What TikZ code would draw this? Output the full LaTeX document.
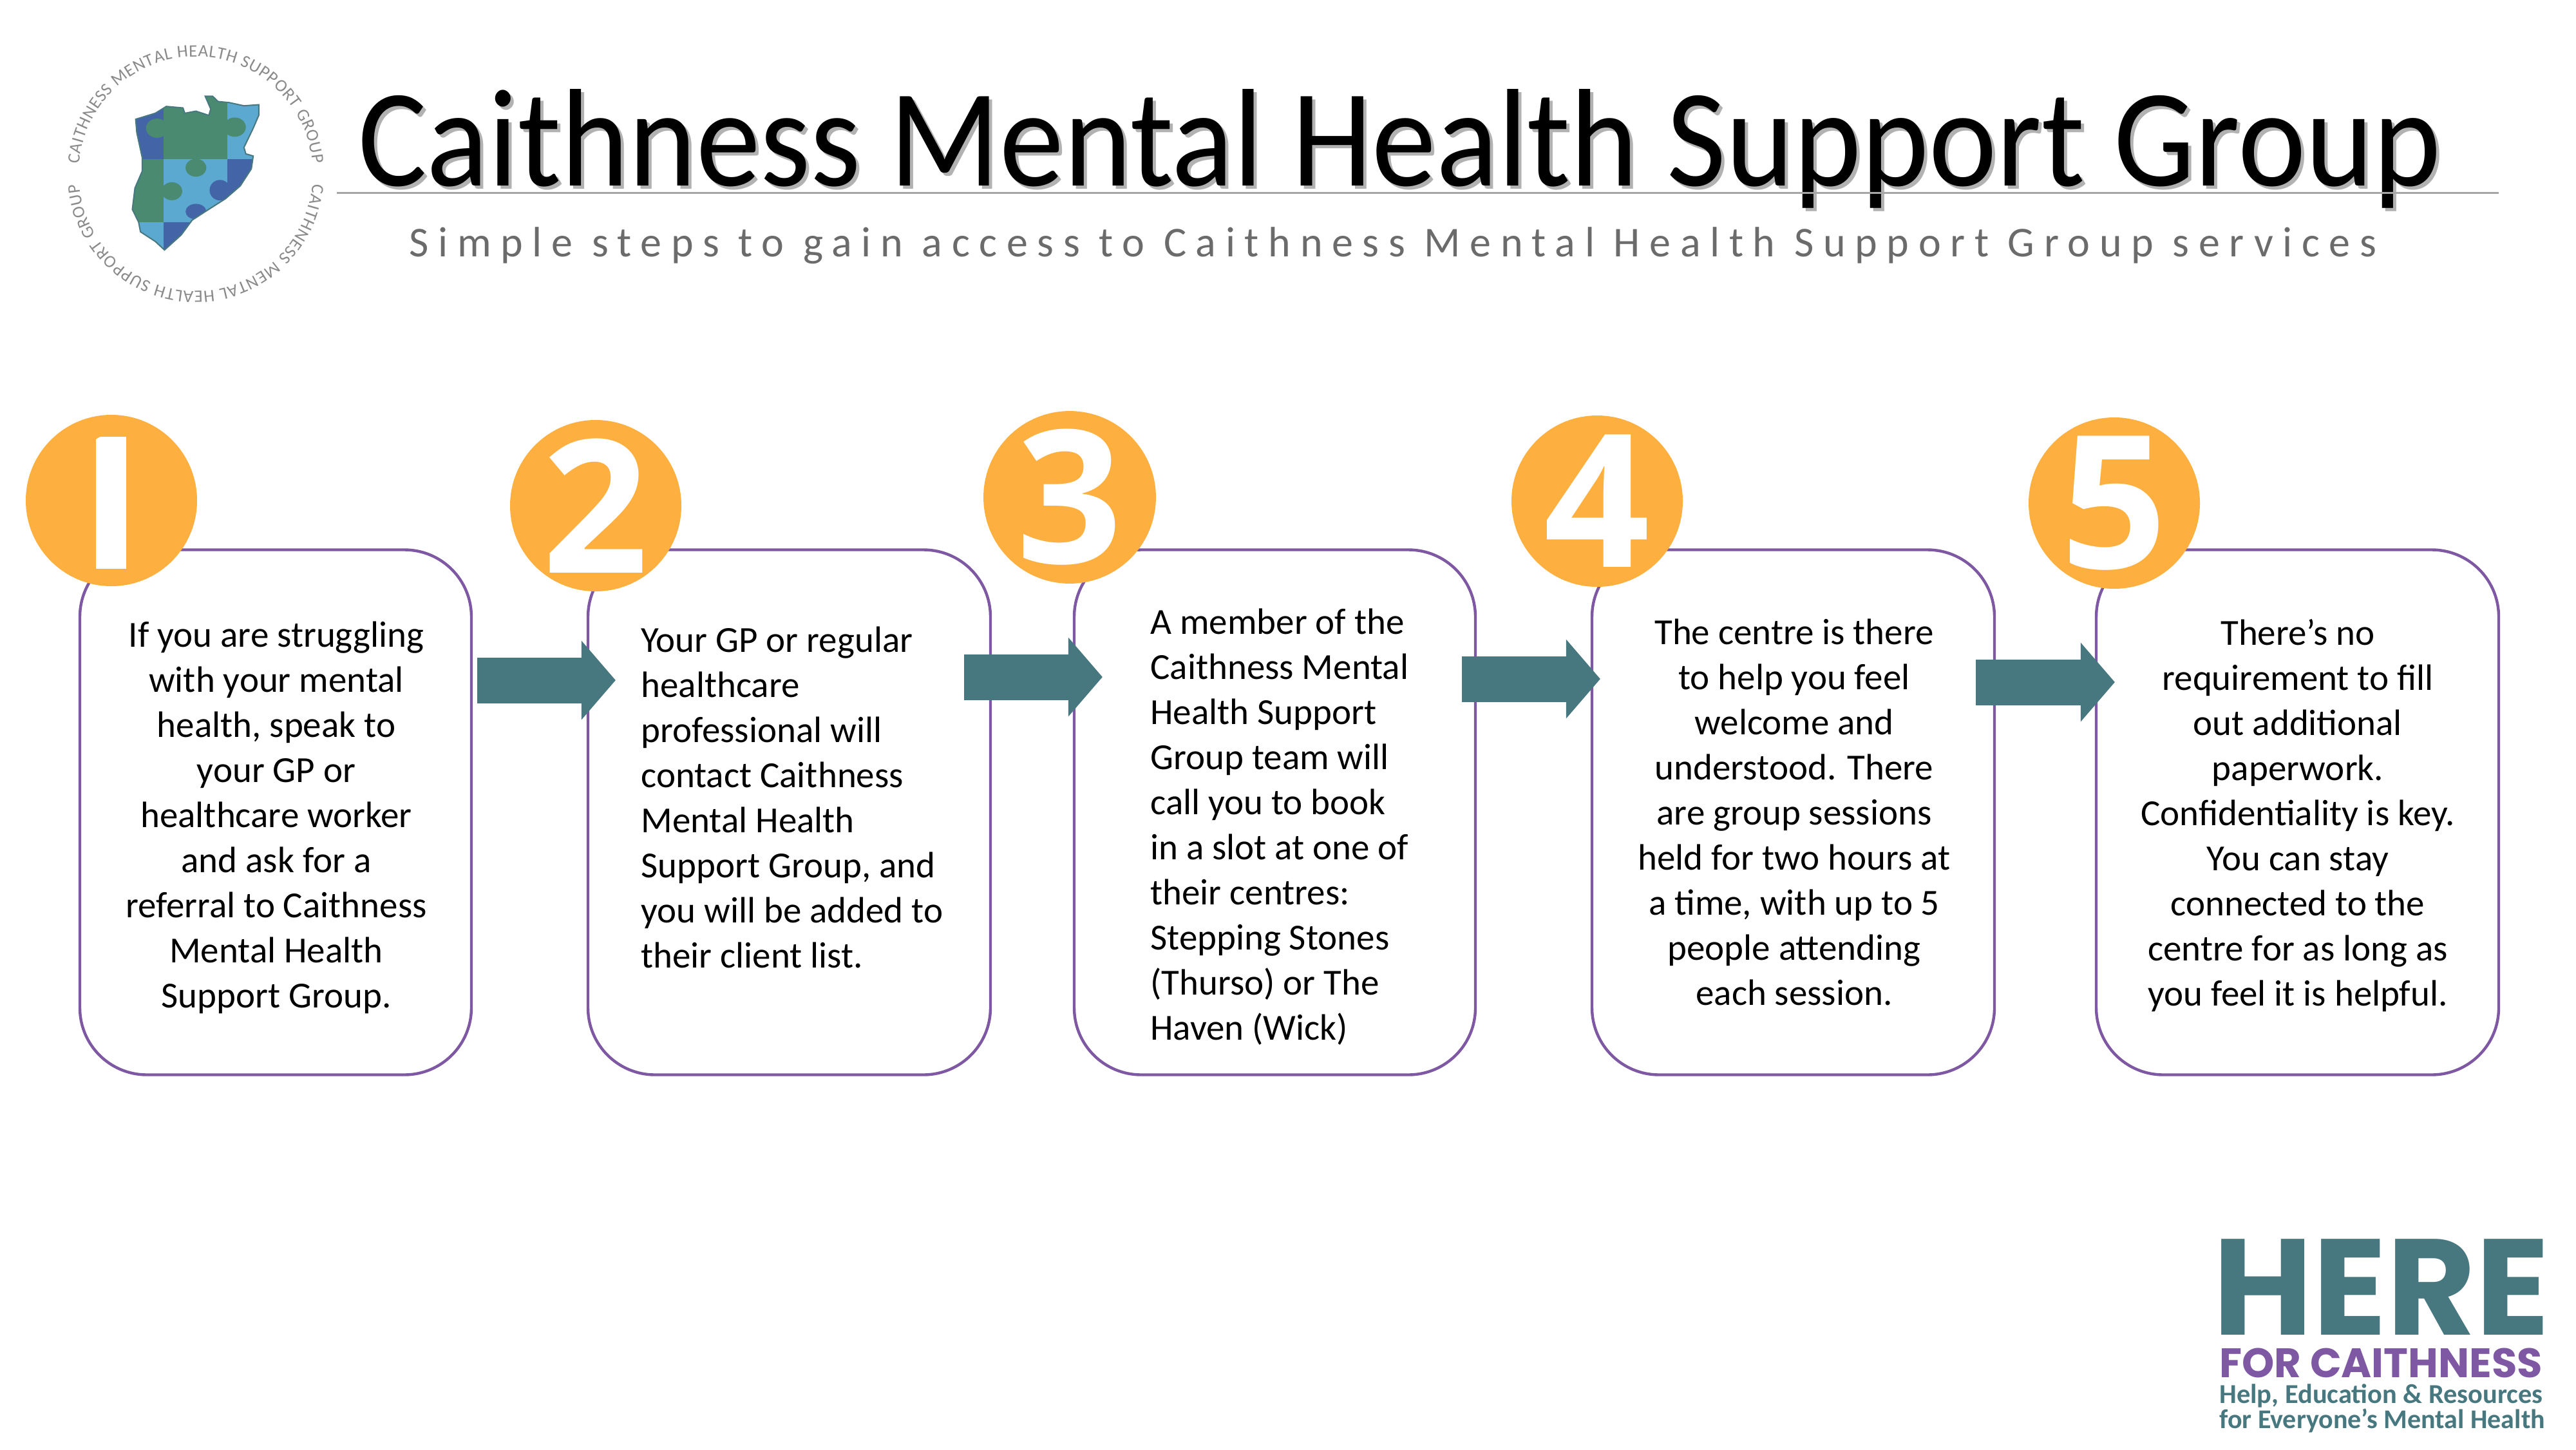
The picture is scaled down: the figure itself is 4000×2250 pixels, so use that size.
\documentclass[tikz,border=0pt]{standalone}
\usepackage{fontspec}
\setmainfont{Carlito}
\newfontfamily\digitfont{Open Sans}
\newfontfamily\herefont{Poppins}
\newfontfamily\subfont[LetterSpace=22.2]{Carlito}
\newfontfamily\titlefont[FakeStretch=0.925]{Carlito}
\usetikzlibrary{arrows.meta}
\usetikzlibrary{decorations.text}

\definecolor{stepborder}{HTML}{7F58A3}
\definecolor{steporange}{HTML}{FDB03F}
\definecolor{stepteal}{HTML}{477880}
\definecolor{rulegray}{HTML}{A6A6A6}
\definecolor{subgray}{HTML}{6B6B6B}
\definecolor{logogray}{HTML}{8A8A8A}
\definecolor{mapgreen}{HTML}{4A8A70}
\definecolor{mapblue}{HTML}{4464A8}
\definecolor{maplight}{HTML}{5BA8D0}

\tikzset{
  stepbox/.style={draw=stepborder,line width=2.2pt,rounded corners=52pt,fill=white,minimum height=407.5pt},
  stepdisc/.style={circle,fill=steporange,text=white,minimum size=133pt,inner sep=0pt,font=\digitfont\bfseries\fontsize{144pt}{144pt}\selectfont},
  steptext/.style={inner sep=0pt,font=\fontsize{28.5pt}{35pt}\selectfont},
  stepflow/.style={stepteal,line width=35.5pt,-{Triangle[length=26.5pt,width=61.5pt,line width=0pt]}},
  logotext/.style={decorate,decoration={text along path,text align={fit to path},
    text={|\fontsize{13.5pt}{13.5pt}\selectfont\color{logogray}|CAITHNESS MENTAL HEALTH SUPPORT GROUP}}}
}

\begin{document}
\begin{tikzpicture}[x=.5pt,y=-.5pt]
\useasboundingbox (0,0) rectangle (4000,2250);

% logo top left
\coordinate (logo) at (304,270);
\path [logotext] ([shift={(175:91pt)}]logo) arc [start angle=175,end angle=5,radius=91pt];
\path [logotext] ([shift={(-5:91pt)}]logo) arc [start angle=-5,end angle=-175,radius=91pt];
\begin{scope}[xscale=.574,yscale=.3317]
\begin{scope}
\clip (367,558) -- (420,530) -- (450,498) -- (495,505) -- (500,530) -- (530,520) -- (565,540) -- (570,510) -- (555,450) -- (575,450) -- (590,475) -- (620,480) -- (660,495) -- (700,490) -- (700,540) -- (685,600) -- (660,690) -- (665,720) -- (685,730) -- (680,790) -- (650,870) -- (610,930) -- (560,985) -- (520,1030) -- (490,1100) -- (445,1170) -- (420,1130) -- (380,1085) -- (375,1040) -- (358,980) -- (365,880) -- (385,800) -- (385,740) -- (370,620) -- cycle;
\fill [mapblue] (340,430) rectangle (443,745);
\fill [mapgreen] (443,430) rectangle (615,745);
\fill [maplight] (615,430) rectangle (720,745);
\fill [mapgreen] (340,745) rectangle (443,1040);
\fill [maplight] (443,745) rectangle (615,1040);
\fill [mapblue] (615,745) rectangle (720,1040);
\fill [maplight] (340,1040) rectangle (443,1200);
\fill [mapblue] (443,1040) rectangle (720,1200);
\fill [mapgreen] (425,600) ellipse [x radius=30,y radius=45];
\fill [mapgreen] (635,595) ellipse [x radius=30,y radius=45];
\fill [mapgreen] (530,785) ellipse [x radius=28,y radius=42];
\fill [mapgreen] (465,895) ellipse [x radius=28,y radius=42];
\fill [mapblue] (595,890) ellipse [x radius=28,y radius=48];
\fill [mapblue] (530,990) ellipse [x radius=28,y radius=36];
\end{scope}
\draw [stepteal,line width=1pt] (367,558) -- (420,530) -- (450,498) -- (495,505) -- (500,530) -- (530,520) -- (565,540) -- (570,510) -- (555,450) -- (575,450) -- (590,475) -- (620,480) -- (660,495) -- (700,490) -- (700,540) -- (685,600) -- (660,690) -- (665,720) -- (685,730) -- (680,790) -- (650,870) -- (610,930) -- (560,985) -- (520,1030) -- (490,1100) -- (445,1170) -- (420,1130) -- (380,1085) -- (375,1040) -- (358,980) -- (365,880) -- (385,800) -- (385,740) -- (370,620) -- cycle;
\end{scope}

% title
\node [text=black!30,anchor=base west,inner sep=0pt,font=\titlefont\fontsize{108pt}{108pt}\selectfont] (titleshadow) at (561,293) {Caithness Mental Health Support Group};
\node [anchor=base west,inner sep=0pt,font=\titlefont\fontsize{108pt}{108pt}\selectfont] (title) at (556,288) {Caithness Mental Health Support Group};
\coordinate (ruleleft) at (523,299);
\coordinate (ruleright) at (3880,299);
\draw [rulegray,line width=1.5pt] (ruleleft) -- (ruleright);
\node [text=subgray,anchor=base west,inner sep=0pt,font=\subfont\fontsize{33pt}{33pt}\selectfont] (subtitle) at (635,398) {Simple steps to gain access to Caithness Mental Health Support Group services};

% boxes
\node [stepbox,minimum width=304pt] (box1) at (428,1261) {};
\node [stepbox,minimum width=312.5pt] (box2) at (1225.5,1261) {};
\node [stepbox,minimum width=311.5pt] (box3) at (1979.5,1261) {};
\node [stepbox,minimum width=312.5pt] (box4) at (2784.5,1261) {};
\node [stepbox,minimum width=312.5pt] (box5) at (3567.5,1261) {};

% box text
\node [steptext,align=center] (text1) at (429,1269) {If you are struggling\\with your mental\\health, speak to\\your GP or\\healthcare worker\\and ask for a\\referral to Caithness\\Mental Health\\Support Group.};
\node [steptext,align=left,anchor=west] (text2) at (995,1238) {Your GP or regular\\healthcare\\professional will\\contact Caithness\\Mental Health\\Support Group, and\\you will be added to\\their client list.};
\node [steptext,align=left,anchor=west] (text3) at (1786,1284) {A member of the\\Caithness Mental\\Health Support\\Group team will\\call you to book\\in a slot at one of\\their centres:\\Stepping Stones\\(Thurso) or The\\Haven (Wick)};
\node [steptext,align=center] (text4) at (2786,1261) {The centre is there\\to help you feel\\welcome and\\understood. There\\are group sessions\\held for two hours at\\a time, with up to 5\\people attending\\each session.};
\node [steptext,align=center] (text5) at (3568,1266) {There’s no\\requirement to fill\\out additional\\paperwork.\\Confidentiality is key.\\You can stay\\connected to the\\centre for as long as\\you feel it is helpful.};

% arrows between the boxes
\draw [stepflow] ([xshift=3.5pt,yshift=102.5pt]box1.east) -- ([xshift=22.5pt,yshift=102.5pt]box2.west);
\draw [stepflow] ([xshift=-21.5pt,yshift=105pt]box2.east) -- ([xshift=23pt,yshift=105pt]box3.west);
\draw [stepflow] ([xshift=-11.5pt,yshift=103.5pt]box3.east) -- ([xshift=7.5pt,yshift=103.5pt]box4.west);
\draw [stepflow] ([xshift=-15.5pt,yshift=101pt]box4.east) -- ([xshift=15.5pt,yshift=101pt]box5.west);

% numbers
\node [stepdisc] (disc1) at (173,777) {};
\begin{scope}
\clip (149,678) rectangle (195,884);
\node [stepdisc,fill=none] (digit1) at (155,781) {\scalebox{1.3}[1]{1}};
\end{scope}
\node [stepdisc] (disc2) at (925,785) {2};
\node [stepdisc] (disc3) at (1661,772) {3};
\node [stepdisc] (disc4) at (2480,778) {4};
\node [stepdisc] (disc5) at (3283,781) {5};

% logo bottom right
\node [text=stepteal,anchor=base west,inner sep=0pt,font=\herefont\bfseries\fontsize{106pt}{106pt}\selectfont] (here) at (3436,2072) {HERE};
\node [text=stepborder,anchor=base west,inner sep=0pt,font=\herefont\bfseries\fontsize{32pt}{32pt}\selectfont] (forcaithness) at (3446,2138) {FOR CAITHNESS};
\node [text=stepteal,anchor=base west,inner sep=0pt,font=\bfseries\fontsize{21.2pt}{21.2pt}\selectfont] (helpline) at (3446,2178) {Help, Education \& Resources};
\node [text=stepteal,anchor=base west,inner sep=0pt,font=\bfseries\fontsize{21pt}{21pt}\selectfont] (everyline) at (3446,2217) {for Everyone’s Mental Health};
\end{tikzpicture}
\end{document}
